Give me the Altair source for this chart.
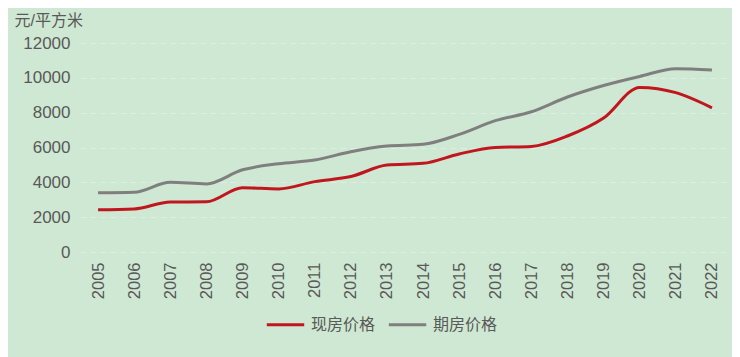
import altair as alt
import pandas as pd

years = [str(y) for y in range(2005, 2023)]
spot = [2420, 2470, 2870, 2880, 3690, 3620, 4040, 4330, 4990, 5090, 5630, 6000, 6060, 6660, 7690, 9450, 9150, 8280]
future = [3400, 3430, 4000, 3910, 4720, 5070, 5280, 5760, 6080, 6180, 6750, 7540, 8050, 8900, 9560, 10080, 10520, 10450]
series_names = ["现房价格", "期房价格"]
colors = ["#c0161e", "#7f7f7f"]

rows = []
for i, y in enumerate(years):
    rows.append({"year": y, "series": series_names[0], "value": spot[i]})
    rows.append({"year": y, "series": series_names[1], "value": future[i]})
df = pd.DataFrame(rows)

font = "Liberation Sans, Noto Sans CJK SC, sans-serif"

chart = alt.Chart(df).mark_line(strokeWidth=3, interpolate="monotone").encode(
    x=alt.X("year:O", sort=years, scale=alt.Scale(paddingInner=0, paddingOuter=0.5),
            axis=alt.Axis(title=None, labelAngle=-90, labelAlign="right", labelBaseline="middle",
                          labelFontSize=16.5, labelColor="#595959", labelPadding=10,
                          domain=False, ticks=False, grid=False, labelFont=font)),
    y=alt.Y("value:Q", scale=alt.Scale(domain=[0, 12000]),
            axis=alt.Axis(title="元/平方米", titleAngle=0, titleAlign="left", titleBaseline="middle",
                          titleX=-66, titleY=-23, titleFontSize=16, titleFontWeight="normal",
                          titleColor="#595959", titleFont=font, format="d",
                          values=[0, 2000, 4000, 6000, 8000, 10000, 12000],
                          labelFontSize=17, labelColor="#595959", labelPadding=10, labelFont=font,
                          domain=False, ticks=False, gridColor="#dcefe0", gridDash=[6, 4], gridWidth=1)),
    color=alt.Color("series:N", sort=series_names,
                    scale=alt.Scale(domain=series_names, range=colors),
                    legend=alt.Legend(title=None, orient="none", direction="horizontal",
                                      legendX=185, legendY=261, symbolType="stroke",
                                      symbolSize=1400, symbolStrokeWidth=3, labelFontSize=16,
                                      labelColor="#595959", labelFont=font, columnPadding=6,
                                      labelOffset=5)),
).properties(
    width=650, height=209, background="#cfe8d3",
    autosize=alt.AutoSizeParams(type="none"),
    padding={"left": 72, "top": 35, "right": 2, "bottom": 105},
).configure_view(stroke=None)

chart.save("out.html", embed_options={"renderer": "svg", "actions": False})
